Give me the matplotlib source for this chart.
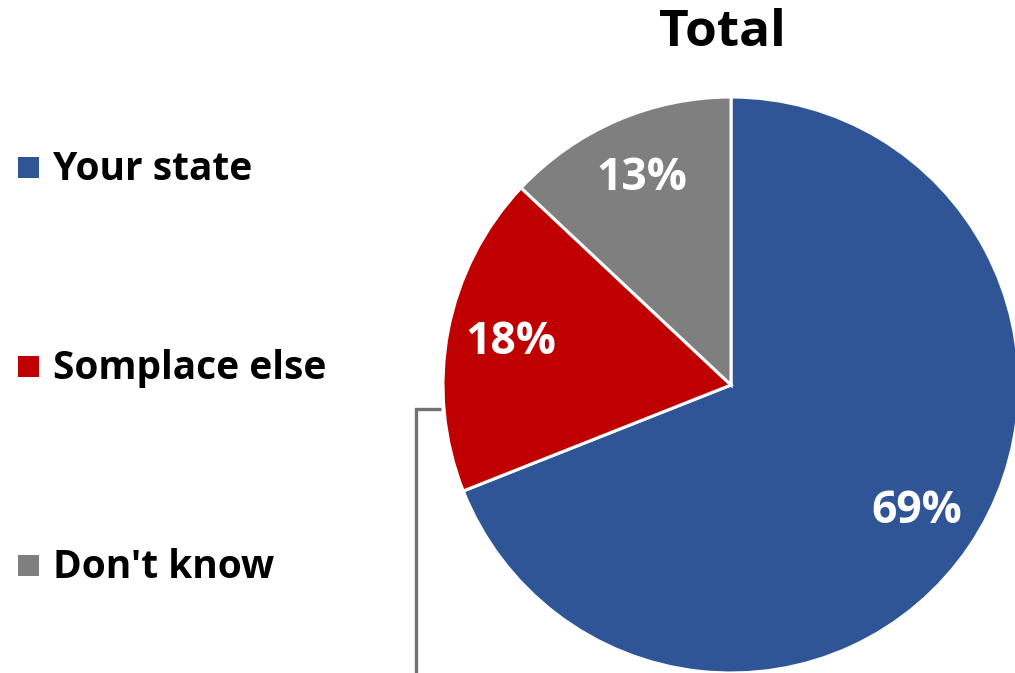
import matplotlib.pyplot as plt
from matplotlib.patches import Rectangle

categories = ["Your state", "Somplace else", "Don't know"]
shares = [69, 18, 13]
colors = ["#2F5597", "#C00000", "#7F7F7F"]
title = "Total"

plt.rcParams['font.family'] = ['Open Sans', 'DejaVu Sans']

W, H = 1015, 673
fig = plt.figure(figsize=(W / 100, H / 100), dpi=100)
ax = fig.add_axes([0, 0, 1, 1])

# pie in pixel space (y axis flipped, so go counterclockwise to look clockwise)
wedges, texts, autotexts = ax.pie(
    shares, colors=colors, startangle=-90, counterclock=True,
    center=(731, 385), radius=288, autopct='%d%%', pctdistance=0.78,
    wedgeprops=dict(edgecolor='white', linewidth=2.2),
    textprops=dict(color='white', fontsize=32, fontweight='bold'),
    frame=True)
ax.set_xlim(0, W)
ax.set_ylim(H, 0)
ax.axis('off')
for t in autotexts:
    t.set_clip_on(False)

ax.text(722, 33, title, ha='center', va='center', fontsize=37, fontweight='bold')

# legend
leg_y = [170, 369, 568]
for name, c, y in zip(categories, colors, leg_y):
    ax.add_patch(Rectangle((18, y - 13), 21, 21, facecolor=c, edgecolor='none'))
    ax.text(53, y, name, ha='left', va='center', fontsize=28, fontweight='bold')

# leftover leader line
ax.plot([441, 416, 416], [409, 409, H], color='#767171', linewidth=2.4,
        solid_capstyle='butt', solid_joinstyle='miter')

fig.savefig('out.png', dpi=100)
